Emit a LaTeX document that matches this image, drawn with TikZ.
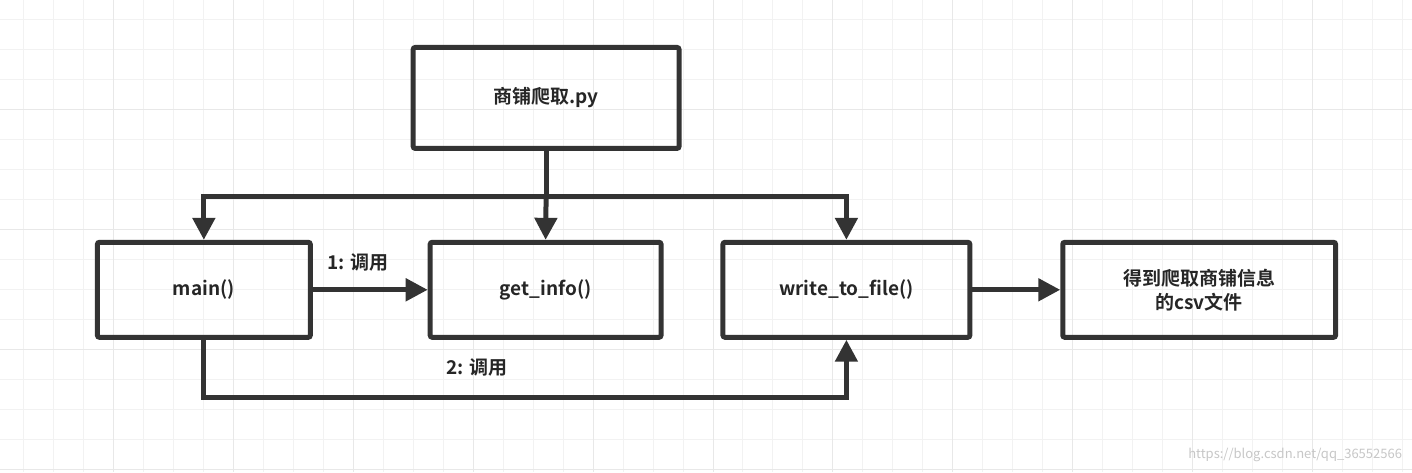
\documentclass[tikz,border=0pt]{standalone}
\usepackage{fontspec}
\setmainfont{Noto Sans CJK SC}[BoldFont={Noto Sans CJK SC Bold}]
\usetikzlibrary{arrows.meta}
\begin{document}
\begin{tikzpicture}[x=1pt,y=-1pt,
  box/.style={draw=black!80!white,line width=5pt,rounded corners=2pt,minimum height=95pt,inner sep=0pt,font=\fontsize{19}{24}\selectfont\bfseries,align=center,text=black!85},
  conn/.style={draw=black!80!white,line width=5pt,-{Triangle[length=22pt,width=22pt]}},
  lbl/.style={font=\fontsize{19}{24}\selectfont\bfseries,text=black!85}]
\fill[white] (0,0) rectangle (1412,472);
\foreach \x in {23,53,...,1412} \draw[black!5,line width=1pt] (\x,0)--(\x,472);
\foreach \y in {19,49,...,472} \draw[black!5,line width=1pt] (0,\y)--(1412,\y);
\foreach \x in {113,233,...,1412} \draw[black!9,line width=1pt] (\x,0)--(\x,472);
\foreach \y in {109,229,...,472} \draw[black!9,line width=1pt] (0,\y)--(1412,\y);
\useasboundingbox (0,0) rectangle (1412,472);
\node[box,minimum width=266pt,minimum height=101pt] (py) at (546,97.5) {商铺爬取.py};
\node[box,minimum width=213pt] (main) at (203.5,289.5) {main()};
\node[box,minimum width=231pt] (get) at (545.5,289.5) {get\_info()};
\node[box,minimum width=247pt] (write) at (846.5,289.5) {write\_to\_file()};
\node[box,minimum width=273pt] (res) at (1199.5,289.5) {得到爬取商铺信息\\的csv文件};
\coordinate (j) at (546,196);
\draw[draw=black!80!white,line width=5pt] (py.south) -- (j);
\draw[conn] (j) -| (main.north);
\draw[conn] (j) -- (get.north);
\draw[conn] (j) -| (write.north);
\draw[conn] (main.east) -- (get.west);
\draw[conn] (write.east) -- (res.west);
\draw[conn] (main.south) |- (546,397) -| (write.south);
\node[lbl] (l1) at (358,262) {1: 调用};
\node[lbl] (l2) at (477,367) {2: 调用};
\node[font=\fontsize{13}{15}\selectfont,text=black!22,anchor=east] (wm) at (1406,455) {https://blog.csdn.net/qq\_36552566};
\end{tikzpicture}
\end{document}
